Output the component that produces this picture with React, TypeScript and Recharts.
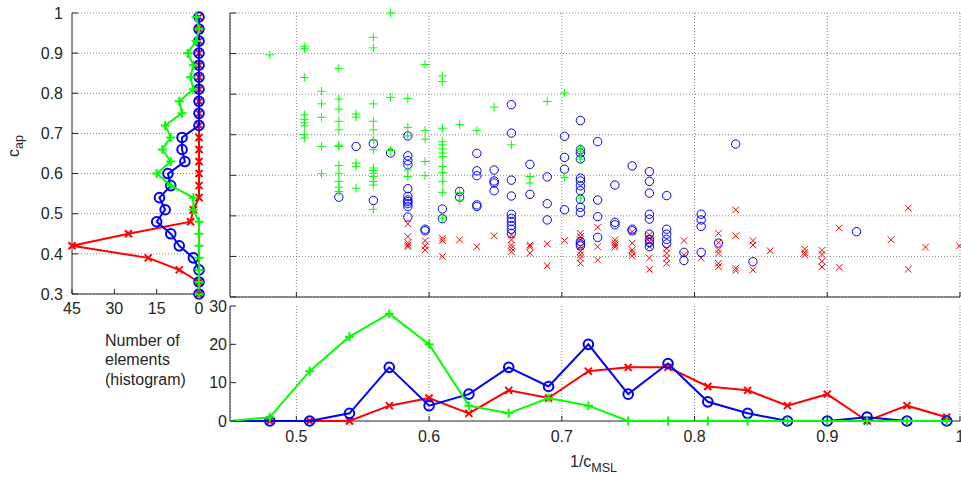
import React from 'react';
import { ScatterChart, Scatter, XAxis, YAxis, CartesianGrid } from 'recharts';

const FONT = '"Liberation Sans", Arial, Helvetica, sans-serif';
const INK = '#262626';
const GRID = '#8a8a8a';
const RED = '#ff0000';
const BLUE = '#0000ff';
const GREEN = '#00ff00';

// axis ticks
const xTicks = [0.5, 0.6, 0.7, 0.8, 0.9, 1];
const capTicks = [0.3, 0.4, 0.5, 0.6, 0.7, 0.8, 0.9, 1];
const countTicks = [0, 15, 30, 45];
const histTicks = [0, 10, 20, 30];

// left histogram (counts per c_ap bin)
const capBins = [0.30, 0.33, 0.36, 0.39, 0.42, 0.45, 0.48, 0.51, 0.54, 0.57, 0.60, 0.63, 0.66, 0.69, 0.72, 0.75, 0.78, 0.81, 0.84, 0.87, 0.90, 0.93, 0.96, 0.99];
const capRed = [0, 0, 7, 18, 45, 25, 3, 2, 0, 0, 0, 0, 0, 0, 0, 0, 0, 0, 0, 0, 0, 0, 0, 0];
const capBlue = [0, 0, 0, 2, 7, 10, 15, 12, 14, 10, 11, 5, 6, 6, 0, 0, 0, 0, 0, 0, 0, 0, 0, 0];
const capGreen = [0, 0, 0, 0, 0, 0, 0, 2, 2, 10, 15, 10, 13, 10, 12, 6, 7, 2, 3, 2, 4, 1, 0, 1];

// bottom histogram (counts per 1/c_MSL bin)
const mslBins = [0.45, 0.48, 0.51, 0.54, 0.57, 0.60, 0.63, 0.66, 0.69, 0.72, 0.75, 0.78, 0.81, 0.84, 0.87, 0.90, 0.93, 0.96, 0.99];
const mslRed = [0, 0, 0, 0, 4, 6, 2, 8, 6, 13, 14, 14, 9, 8, 4, 7, 0, 4, 1];
const mslBlue = [0, 0, 0, 2, 14, 4, 7, 14, 9, 20, 7, 15, 5, 2, 0, 0, 1, 0, 0];
const mslGreen = [0, 1, 13, 22, 28, 20, 4, 2, 6, 4, 0, 0, 0, 0, 0, 0, 0, 0, 0];

// scatter points [1/c_MSL, c_ap]
const greenPts: [number, number][] = [
  [0.480, 0.897],
  [0.506, 0.917], [0.506, 0.912], [0.506, 0.841], [0.506, 0.749], [0.506, 0.738], [0.506, 0.729], [0.506, 0.722], [0.506, 0.700], [0.506, 0.692],
  [0.519, 0.807], [0.519, 0.776], [0.519, 0.743], [0.519, 0.671], [0.519, 0.604],
  [0.532, 0.863], [0.532, 0.788], [0.532, 0.763], [0.532, 0.733], [0.532, 0.712], [0.532, 0.674], [0.532, 0.671], [0.532, 0.624], [0.532, 0.605], [0.532, 0.585], [0.532, 0.571], [0.532, 0.560],
  [0.545, 0.751], [0.545, 0.743], [0.545, 0.630], [0.545, 0.622], [0.545, 0.568],
  [0.558, 0.940], [0.558, 0.914], [0.558, 0.776], [0.558, 0.733], [0.558, 0.712], [0.558, 0.687], [0.558, 0.663], [0.558, 0.618], [0.558, 0.612], [0.558, 0.605], [0.558, 0.597], [0.558, 0.585], [0.558, 0.576], [0.558, 0.516],
  [0.571, 1.0], [0.571, 0.792], [0.571, 0.661],
  [0.584, 0.789], [0.584, 0.718], [0.584, 0.697], [0.584, 0.613], [0.584, 0.597],
  [0.597, 0.873], [0.597, 0.711], [0.597, 0.689], [0.597, 0.634], [0.597, 0.599],
  [0.610, 0.845], [0.610, 0.831], [0.610, 0.716], [0.610, 0.683], [0.610, 0.675], [0.610, 0.665], [0.610, 0.655], [0.610, 0.646], [0.610, 0.622], [0.610, 0.607], [0.610, 0.585], [0.610, 0.558], [0.610, 0.494],
  [0.623, 0.725], [0.623, 0.558], [0.623, 0.539],
  [0.636, 0.710],
  [0.649, 0.768],
  [0.662, 0.675],
  [0.676, 0.597], [0.676, 0.581],
  [0.689, 0.782],
  [0.702, 0.803], [0.702, 0.595],
  [0.714, 0.667], [0.714, 0.659], [0.714, 0.640], [0.714, 0.544],
];

const bluePts: [number, number][] = [
  [0.532, 0.546],
  [0.545, 0.671],
  [0.558, 0.678], [0.558, 0.538],
  [0.571, 0.655],
  [0.584, 0.697], [0.584, 0.648], [0.584, 0.636], [0.584, 0.626], [0.584, 0.567], [0.584, 0.548], [0.584, 0.539], [0.584, 0.535], [0.584, 0.530], [0.584, 0.523], [0.584, 0.497],
  [0.597, 0.467], [0.597, 0.463],
  [0.610, 0.517], [0.610, 0.493],
  [0.623, 0.560], [0.623, 0.546],
  [0.636, 0.654], [0.636, 0.611], [0.636, 0.599], [0.636, 0.527], [0.636, 0.523],
  [0.649, 0.613], [0.649, 0.586], [0.649, 0.581], [0.649, 0.562],
  [0.662, 0.774], [0.662, 0.704], [0.662, 0.588], [0.662, 0.549], [0.662, 0.504], [0.662, 0.494], [0.662, 0.486], [0.662, 0.476], [0.662, 0.467], [0.662, 0.457],
  [0.676, 0.627], [0.676, 0.553],
  [0.689, 0.596], [0.689, 0.530], [0.689, 0.490],
  [0.702, 0.696], [0.702, 0.644], [0.702, 0.615], [0.702, 0.515],
  [0.714, 0.735], [0.714, 0.663], [0.714, 0.655], [0.714, 0.640], [0.714, 0.593], [0.714, 0.586], [0.714, 0.574], [0.714, 0.562], [0.714, 0.541], [0.714, 0.521], [0.714, 0.508], [0.714, 0.437], [0.714, 0.431], [0.714, 0.426],
  [0.727, 0.683], [0.727, 0.539], [0.727, 0.498], [0.727, 0.447],
  [0.740, 0.576], [0.740, 0.484], [0.740, 0.478],
  [0.753, 0.623], [0.753, 0.467], [0.753, 0.463],
  [0.766, 0.609], [0.766, 0.585], [0.766, 0.556], [0.766, 0.504], [0.766, 0.492], [0.766, 0.455], [0.766, 0.442], [0.766, 0.434], [0.766, 0.424],
  [0.779, 0.550], [0.779, 0.467], [0.779, 0.455], [0.779, 0.442], [0.779, 0.431],
  [0.792, 0.410], [0.792, 0.390],
  [0.805, 0.504], [0.805, 0.490], [0.805, 0.474], [0.805, 0.410],
  [0.818, 0.433],
  [0.831, 0.677],
  [0.844, 0.387],
  [0.922, 0.461],
];

const redPts: [number, number][] = [
  [0.584, 0.480], [0.584, 0.449], [0.584, 0.434], [0.584, 0.428], [0.584, 0.424],
  [0.597, 0.439], [0.597, 0.426], [0.597, 0.416],
  [0.610, 0.445], [0.610, 0.439], [0.610, 0.400],
  [0.623, 0.441],
  [0.636, 0.424],
  [0.649, 0.451],
  [0.662, 0.453], [0.662, 0.441], [0.662, 0.428], [0.662, 0.420], [0.662, 0.412],
  [0.676, 0.428], [0.676, 0.424], [0.676, 0.408],
  [0.689, 0.431], [0.689, 0.377],
  [0.702, 0.439],
  [0.714, 0.457], [0.714, 0.449], [0.714, 0.441], [0.714, 0.424], [0.714, 0.412], [0.714, 0.404], [0.714, 0.396], [0.714, 0.383],
  [0.727, 0.472], [0.727, 0.424], [0.727, 0.391],
  [0.740, 0.441], [0.740, 0.434], [0.740, 0.428], [0.740, 0.423],
  [0.753, 0.461], [0.753, 0.433], [0.753, 0.416], [0.753, 0.410], [0.753, 0.401],
  [0.766, 0.453], [0.766, 0.445], [0.766, 0.437], [0.766, 0.424], [0.766, 0.396], [0.766, 0.368],
  [0.779, 0.420], [0.779, 0.408], [0.779, 0.396], [0.779, 0.383],
  [0.792, 0.439], [0.792, 0.404],
  [0.805, 0.396],
  [0.818, 0.457], [0.818, 0.434], [0.818, 0.416], [0.818, 0.408], [0.818, 0.383], [0.818, 0.375],
  [0.831, 0.515], [0.831, 0.451], [0.831, 0.371], [0.831, 0.365],
  [0.844, 0.439], [0.844, 0.428], [0.844, 0.367],
  [0.857, 0.414],
  [0.883, 0.418], [0.883, 0.410], [0.883, 0.404],
  [0.896, 0.415], [0.896, 0.405], [0.896, 0.388], [0.896, 0.374],
  [0.909, 0.470], [0.909, 0.373],
  [0.948, 0.441],
  [0.961, 0.519], [0.961, 0.368],
  [0.974, 0.423],
  [0.9995, 0.426],
];

const toXY = (pts: [number, number][]) => pts.map(([x, y]) => ({ x, y }));
const capRows = (counts: number[]) => capBins.map((c, i) => ({ n: counts[i], c }));
const mslRows = (counts: number[]) => mslBins.map((x, i) => ({ x, n: counts[i] }));

// marker shapes
const circle = (color: string, r: number, w: number) => (p: any) => {
  if (p.payload && p.payload.x === 0.45) return <g />;
  return <circle cx={p.cx} cy={p.cy} r={r} stroke={color} strokeWidth={w} fill="none" />;
};
const plus = (color: string, r: number, w: number) => (p: any) => {
  if (p.payload && p.payload.x === 0.45) return <g />;
  return (
    <path d={`M${p.cx - r},${p.cy}H${p.cx + r}M${p.cx},${p.cy - r}V${p.cy + r}`} stroke={color} strokeWidth={w} fill="none" />
  );
};
const cross = (color: string, r: number, w: number) => (p: any) => {
  if (p.payload && p.payload.x === 0.45) return <g />;
  return (
    <path
      d={`M${p.cx - r},${p.cy - r}L${p.cx + r},${p.cy + r}M${p.cx - r},${p.cy + r}L${p.cx + r},${p.cy - r}`}
      stroke={color}
      strokeWidth={w}
      fill="none"
    />
  );
};

// inward ticks in the MATLAB style
const yTick = (len: number, gap: number, show: boolean) => (p: any) => (
  <g>
    <line x1={p.x} y1={p.y} x2={p.x + len} y2={p.y} stroke={INK} strokeWidth={1} />
    {show && (
      <text x={p.x - gap} y={p.y} dy="0.36em" textAnchor="end" fontFamily={FONT} fontSize={16} fill={INK}>
        {String(p.payload.value)}
      </text>
    )}
  </g>
);
const xTick = (len: number, off: number, show: boolean) => (p: any) => (
  <g>
    <line x1={p.x} y1={p.y} x2={p.x} y2={p.y - len} stroke={INK} strokeWidth={1} />
    {show && (
      <text x={p.x} y={p.y + off} textAnchor="middle" fontFamily={FONT} fontSize={16} fill={INK}>
        {String(p.payload.value)}
      </text>
    )}
  </g>
);

const axisLine = { stroke: INK, strokeWidth: 1 };

const App: React.FC = () => {
  return (
    <div style={{ position: 'absolute', left: 0, top: 0, width: 961, height: 478, background: '#fff', overflow: 'hidden' }}>
      {/* main scatter */}
      <div style={{ position: 'absolute', left: 0, top: 0 }}>
        <ScatterChart width={961} height={300} margin={{ top: 13, right: 1, bottom: 2, left: 0 }}>
          <CartesianGrid stroke={GRID} strokeDasharray="1 2" />
          <XAxis type="number" dataKey="x" domain={[0.45, 1]} ticks={xTicks} height={1} interval={0}
            axisLine={axisLine} tickLine={false} tickSize={0} tickMargin={0} tick={xTick(5, 0, false)} />
          <YAxis type="number" dataKey="y" domain={[0.3, 1]} ticks={capTicks} width={230} interval={0}
            axisLine={axisLine} tickLine={false} tickSize={0} tickMargin={0} tick={yTick(6, 0, false)} />
          <Scatter data={toXY(redPts)} shape={cross(RED, 3.3, 1)} isAnimationActive={false} />
          <Scatter data={toXY(bluePts)} shape={circle(BLUE, 4.2, 1)} isAnimationActive={false} />
          <Scatter data={toXY(greenPts)} shape={plus(GREEN, 4.3, 1)} isAnimationActive={false} />
        </ScatterChart>
      </div>

      {/* left histogram */}
      <div style={{ position: 'absolute', left: 0, top: 0 }}>
        <ScatterChart width={210} height={320} margin={{ top: 13, right: 11, bottom: 0, left: 0 }}>
          <CartesianGrid stroke={GRID} strokeDasharray="1 2" vertical={false} />
          <XAxis type="number" dataKey="n" domain={[0, 45]} reversed ticks={countTicks} height={26} interval={0}
            axisLine={axisLine} tickLine={false} tickSize={0} tickMargin={0} tick={xTick(5, 20, true)} />
          <YAxis type="number" dataKey="c" domain={[0.3, 1]} ticks={capTicks} width={72} interval={0}
            axisLine={axisLine} tickLine={false} tickSize={0} tickMargin={0} tick={yTick(6, 9, true)} />
          <Scatter data={capRows(capRed)} line={{ stroke: RED, strokeWidth: 2 }} shape={cross(RED, 3.5, 2)} isAnimationActive={false} />
          <Scatter data={capRows(capBlue)} line={{ stroke: BLUE, strokeWidth: 2 }} shape={circle(BLUE, 4.8, 2)} isAnimationActive={false} />
          <Scatter data={capRows(capGreen)} line={{ stroke: GREEN, strokeWidth: 2 }} shape={plus(GREEN, 4.5, 2)} isAnimationActive={false} />
        </ScatterChart>
      </div>

      {/* bottom histogram */}
      <div style={{ position: 'absolute', left: 0, top: 290 }}>
        <ScatterChart width={961} height={188} margin={{ top: 16, right: 1, bottom: 0, left: 0 }}>
          <CartesianGrid stroke={GRID} strokeDasharray="1 2" horizontal={false} />
          <XAxis type="number" dataKey="x" domain={[0.45, 1]} ticks={xTicks} height={57} interval={0}
            axisLine={axisLine} tickLine={false} tickSize={0} tickMargin={0} tick={xTick(5, 21, true)} />
          <YAxis type="number" dataKey="n" domain={[0, 30]} ticks={histTicks} width={230} interval={0}
            axisLine={axisLine} tickLine={false} tickSize={0} tickMargin={0} tick={yTick(6, 3, true)} />
          <Scatter data={mslRows(mslRed)} line={{ stroke: RED, strokeWidth: 2 }} shape={cross(RED, 3.5, 2)} isAnimationActive={false} />
          <Scatter data={mslRows(mslBlue)} line={{ stroke: BLUE, strokeWidth: 2 }} shape={circle(BLUE, 4.8, 2)} isAnimationActive={false} />
          <Scatter data={mslRows(mslGreen)} line={{ stroke: GREEN, strokeWidth: 2 }} shape={plus(GREEN, 4.5, 2)} isAnimationActive={false} />
        </ScatterChart>
      </div>

      {/* labels */}
      <svg width={961} height={478} style={{ position: 'absolute', left: 0, top: 0, pointerEvents: 'none' }}>
        <text transform="translate(19,157) rotate(-90)" fontFamily={FONT} fontSize={16} fill={INK}>
          c<tspan fontSize={12.5} dy={4}>ap</tspan>
        </text>
        <text fontFamily={FONT} fontSize={16} fill={INK}>
          <tspan x={105} y={346}>Number of</tspan>
          <tspan x={105} y={365}>elements</tspan>
          <tspan x={105} y={384.5}>(histogram)</tspan>
        </text>
        <text x={570} y={467} fontFamily={FONT} fontSize={16} fill={INK}>
          1/c<tspan fontSize={12.5} dy={5}>MSL</tspan>
        </text>
      </svg>
    </div>
  );
};

export default App;
